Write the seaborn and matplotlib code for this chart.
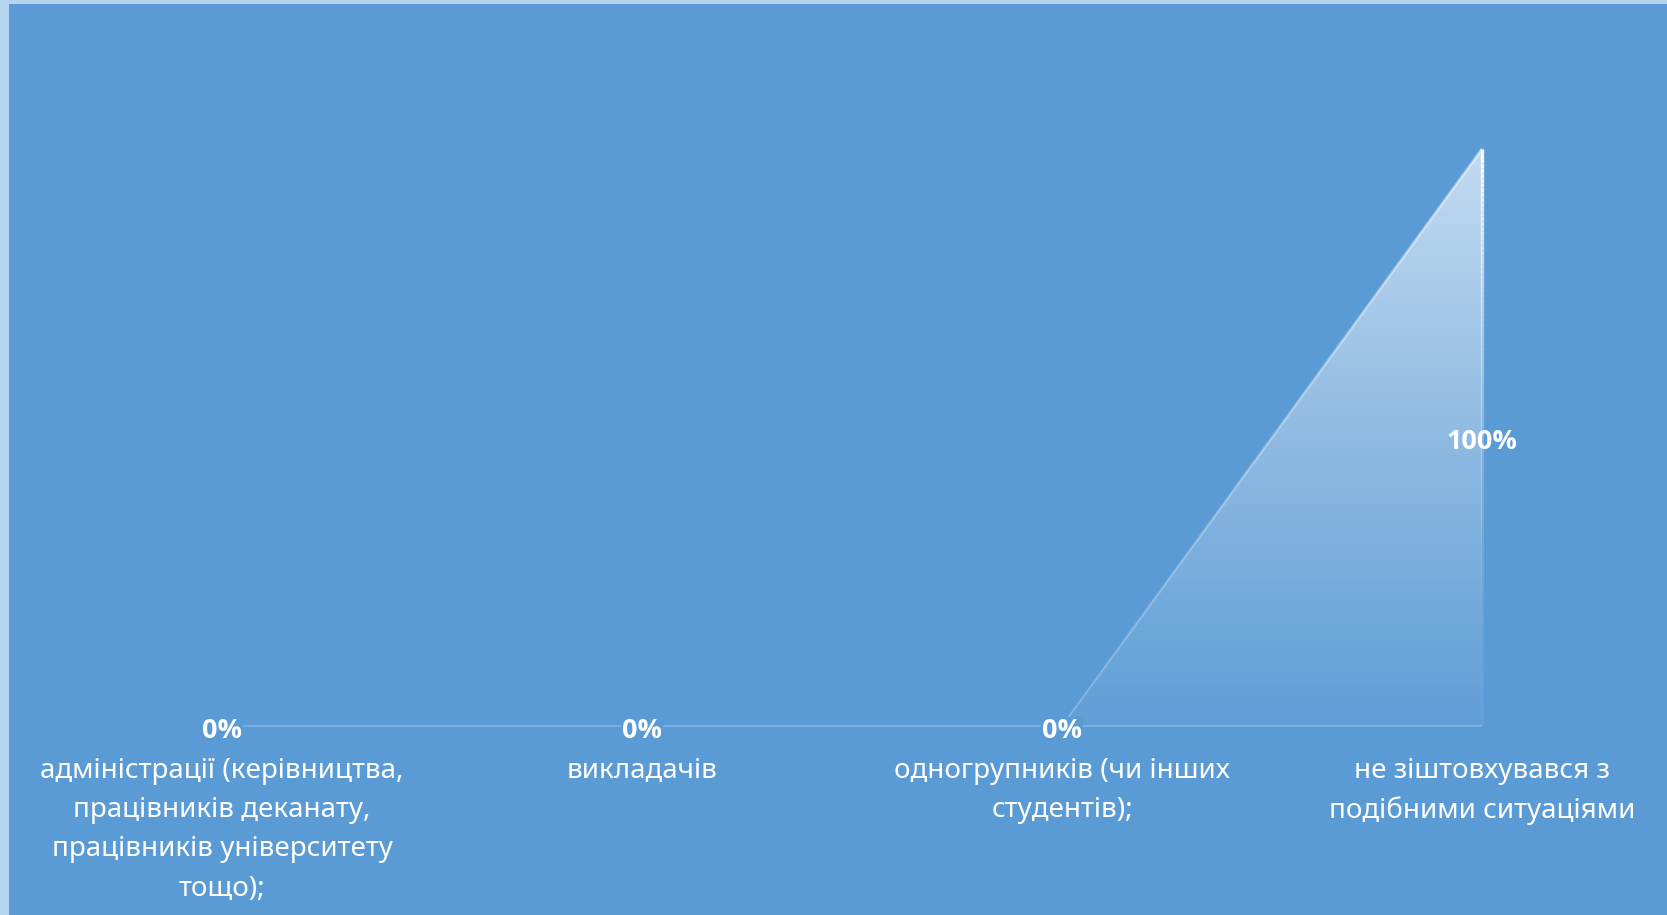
import numpy as np
import pandas as pd
import matplotlib
matplotlib.use("Agg")
import matplotlib.pyplot as plt
import seaborn as sns
from matplotlib.patches import Polygon
from matplotlib.collections import LineCollection

# ---- data ----
categories = [
    "адміністрації (керівництва,\nпрацівників деканату,\nпрацівників університету\nтощо);",
    "викладачів",
    "одногрупників (чи інших\nстудентів);",
    "не зіштовхувався з\nподібними ситуаціями",
]
values = [0, 0, 0, 100]
value_labels = ["0%", "0%", "0%", "100%"]

# ---- style ----
BG = "#5b9bd5"
BORDER = "#b4d3ed"
sns.set_theme(style="white")
plt.rcParams['font.family'] = ['Noto Sans', 'DejaVu Sans']

W, H, DPI = 1667, 915, 100
fig = plt.figure(figsize=(W / DPI, H / DPI), dpi=DPI, facecolor=BORDER)
left_px, top_px = 9, 4
ax = fig.add_axes([left_px / W, 0, (W - left_px) / W, (H - top_px) / H])
ax.set_facecolor(BG)

x = np.arange(len(categories))
df = pd.DataFrame({"pos": x, "value": values})

# axis scaling (pixel layout of the reference)
base_px, apex_px = 726, 149
cat0_px, step_px = 222, 420
px_per_unit = (base_px - apex_px) / max(values)
ax.set_xlim((left_px - cat0_px) / step_px, (W - cat0_px) / step_px)
ax.set_ylim(-(H - base_px) / px_per_unit, (base_px - top_px) / px_per_unit)

# ---- area with vertical gradient ----
verts = list(zip(df["pos"], df["value"])) + [(x[-1], 0), (x[0], 0)]
poly = Polygon(verts, closed=True, transform=ax.transData,
               facecolor="none", edgecolor="none")
ax.add_patch(poly)
n = 256
t = np.linspace(0, 1, n)[:, None]  # 0 bottom -> 1 top
grad = np.zeros((n, 1, 4))
grad[..., 0:3] = 1.0
grad[..., 3] = 0.04 + 0.60 * t ** 1.1
im = ax.imshow(grad, extent=(x[0], x[-1], 0, max(values)), origin="lower",
               aspect="auto", interpolation="bilinear", zorder=1)
im.set_clip_path(poly)

# outline along the data (baseline + slope) via seaborn
sns.lineplot(data=df, x="pos", y="value", ax=ax, color="white", alpha=0.22,
             linewidth=1.3, zorder=2)
# bottom edge of the area under the last segment
ax.hlines(0, x[-2], x[-1], colors="white", alpha=0.22, linewidth=1.3, zorder=2)

# gradient outlines of slanted and vertical edges
def grad_edge(x0, y0, x1, y1, a_top, a_bot, power, lw):
    k = 120
    xs = np.linspace(x0, x1, k + 1)
    ys = np.linspace(y0, y1, k + 1)
    segs = [[(xs[i], ys[i]), (xs[i + 1], ys[i + 1])] for i in range(k)]
    frac = (ys[:-1] + ys[1:]) / 2 / max(values)
    a = a_bot + (a_top - a_bot) * np.clip(frac, 0, 1) ** power
    cols = np.ones((k, 4))
    cols[:, 3] = a
    lc = LineCollection(segs, colors=cols, linewidths=lw, zorder=3,
                        capstyle="butt")
    ax.add_collection(lc)

grad_edge(x[-2], values[-2], x[-1], values[-1], 0.40, 0.03, 1.3, 2.2)
grad_edge(x[-1], 0, x[-1], values[-1], 1.0, 0.05, 2.2, 2.4)

# ---- data labels ----
for xi, vi, lab in zip(x, values, value_labels):
    ax.annotate(lab, xy=(xi, vi / 2), xytext=(0, -3.5),
                textcoords="offset points", ha="center", va="center",
                color="white", fontsize=19.5, fontweight="bold", zorder=5,
                family=['Open Sans', 'Liberation Sans', 'DejaVu Sans'],
                bbox=dict(boxstyle="square,pad=0.05", facecolor=BG,
                          edgecolor="none") if vi == 0 else None)

# ---- category labels on a spine at zero ----
for s in ax.spines.values():
    s.set_visible(False)
ax.spines["bottom"].set_position(("data", 0))
ax.set_xticks(x)
ax.set_xticklabels(categories, color="white", fontsize=20, linespacing=1.54)
ax.tick_params(axis="x", length=0, pad=22)
ax.set_yticks([])
ax.set_xlabel("")
ax.set_ylabel("")
ax.grid(False)

fig.savefig("out.png", dpi=DPI, facecolor=BORDER)
